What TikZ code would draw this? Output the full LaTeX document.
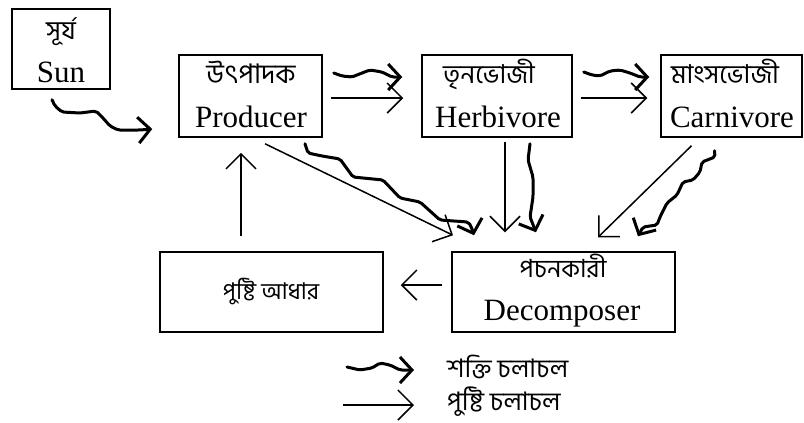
\documentclass[tikz,border=0pt]{standalone}
\usepackage{fontspec}
\setmainfont{Liberation Serif}
\newfontfamily\bnfont[Script=Bengali]{Hind Siliguri}
\usetikzlibrary{arrows.meta,calc}

\tikzset{
  box/.style={draw, line width=1.5bp, inner sep=0pt},
  entext/.style={anchor=base, inner sep=0pt, font=\fontsize{31bp}{36bp}\selectfont},
  bntext/.style={anchor=base, inner sep=0pt, font=\bnfont\fontsize{#1}{30bp}\selectfont},
  bntext/.default=26bp,
  nut/.style={line width=1.5bp, -{Straight Barb[length=15bp,width=30bp,line width=1.5bp]}},
  energy/.style={line width=3bp, line join=round, line cap=round, rounded corners=2bp,
    -{Straight Barb[length=12bp,width=26bp,line width=3bp]}}
}

\begin{document}
\begin{tikzpicture}[x=1bp, y=-1bp]
  \useasboundingbox (0,0) rectangle (804,422);

  % boxes
  \node[box, minimum width=98bp,  minimum height=80bp] (sun)  at (61,49)    {};
  \node[box, minimum width=143bp, minimum height=82bp] (prod) at (250.5,96) {};
  \node[box, minimum width=150bp, minimum height=82bp] (herb) at (497,96)   {};
  \node[box, minimum width=141bp, minimum height=82bp] (carn) at (731.5,96) {};
  \node[box, minimum width=223bp, minimum height=80bp] (pust) at (271.5,292) {};
  \node[box, minimum width=223bp, minimum height=80bp] (dec)  at (563.5,292) {};

  % labels
  \node[bntext] (sunbn)  at (61,39)   {সূর্য};
  \node[entext] (sunen)  at (61,82)   {Sun};
  \node[bntext=27bp] (prodbn) at (251,83)  {উৎপাদক};
  \node[entext] (proden) at (251,127) {Producer};
  \node[bntext] (herbbn) at (489,83)  {তৃনভোজী};
  \node[entext] (herben) at (498,127) {Herbivore};
  \node[bntext] (carnbn) at (725,83)  {মাংসভোজী};
  \node[entext] (carnen) at (732,127) {Carnivore};
  \node[bntext=23bp] (pustbn) at (271,299) {পুষ্টি আধার};
  \node[bntext=25bp] (decbn)  at (563,277) {পচনকারী};
  \node[entext] (decen)  at (562,320) {Decomposer};

  % nutrient flow
  \draw[nut] ($(prod.east)+(8,2)$)   -- ($(herb.west)+(-18,2)$);
  \draw[nut] ($(herb.east)+(8,2)$)   -- ($(carn.west)+(-13,2)$);
  \draw[nut] ($(prod.south)+(14.5,6)$) -- ($(dec.north)+(-110.5,-16)$);
  \draw[nut] ($(herb.south)+(8,4)$)  -- ($(dec.north)+(-58.5,-19)$);
  \draw[nut] ($(carn.south)+(-40,8)$) -- ($(dec.north)+(34.5,-14)$);
  \draw[nut] ($(dec.west)+(-9,-7)$)  -- ($(pust.east)+(17,-7)$);
  \draw[nut] ($(pust.north)+(-30.5,-15)$) -- ($(prod.south)+(-9.5,15)$);

  % energy flow
  \coordinate (eA1) at ($(sun.south)+(-9,10)$);
  \coordinate (eA2) at ($(prod.west)+(-26,33)$);
  \draw[energy] (eA1) -- (55,106) -- (62,112) -- (80,113) -- (96,111) -- (103,118)
    -- (110,126) -- (118,130) -- (140,130) -- (eA2);

  \coordinate (eB1) at ($(prod.east)+(11,-23)$);
  \coordinate (eB2) at ($(herb.west)+(-19,-19)$);
  \draw[energy] (eB1) -- (342,76) -- (352,77) -- (362,73) -- (370,70) -- (382,72)
    -- (392,77) -- (eB2);

  \coordinate (eC1) at ($(herb.east)+(11,-24)$);
  \coordinate (eC2) at ($(carn.west)+(-11,-19)$);
  \draw[energy] (eC1) -- (592,75) -- (600,76) -- (610,71) -- (620,70) -- (630,73)
    -- (640,77) -- (eC2);

  \coordinate (eD1) at ($(prod.south)+(54.5,6)$);
  \coordinate (eD2) at ($(dec.north)+(-89.5,-16)$);
  \draw[energy] (eD1) -- (308,153) -- (322,156) -- (340,159) -- (353,177) -- (383,180)
    -- (400,198) -- (420,202) -- (440,220) -- (468,222) -- (471,226) -- (eD2);

  \coordinate (eE1) at ($(herb.south)+(33,6)$);
  \coordinate (eE2) at ($(dec.north)+(-27.5,-19)$);
  \draw[energy] (eE1) -- (528,160) -- (533,177) -- (533,197) -- (530,217) -- (eE2);

  \coordinate (eF1) at ($(carn.south)+(-17,13)$);
  \coordinate (eF2) at ($(dec.north)+(74.5,-15)$);
  \draw[energy] (eF1) -- (715,157) -- (702,162) -- (700,172) -- (693,180) -- (683,182)
    -- (677,195) -- (667,203) -- (660,217) -- (657,225) -- (643,227) -- (eF2);

  % legend
  \coordinate (lgA1) at (347,367);
  \coordinate (lgA2) at (414,370);
  \draw[energy] (lgA1) -- (360,370) -- (372,368) -- (380,363) -- (390,365) -- (400,370) -- (lgA2);
  \node[bntext=25.5bp, anchor=base west] (lgAtxt) at (447,377) {শক্তি চলাচল};

  \coordinate (lgB1) at (343,405);
  \coordinate (lgB2) at (414,405);
  \draw[nut] (lgB1) -- (lgB2);
  \node[bntext=25.5bp, anchor=base west] (lgBtxt) at (447,410) {পুষ্টি চলাচল};
\end{tikzpicture}
\end{document}
